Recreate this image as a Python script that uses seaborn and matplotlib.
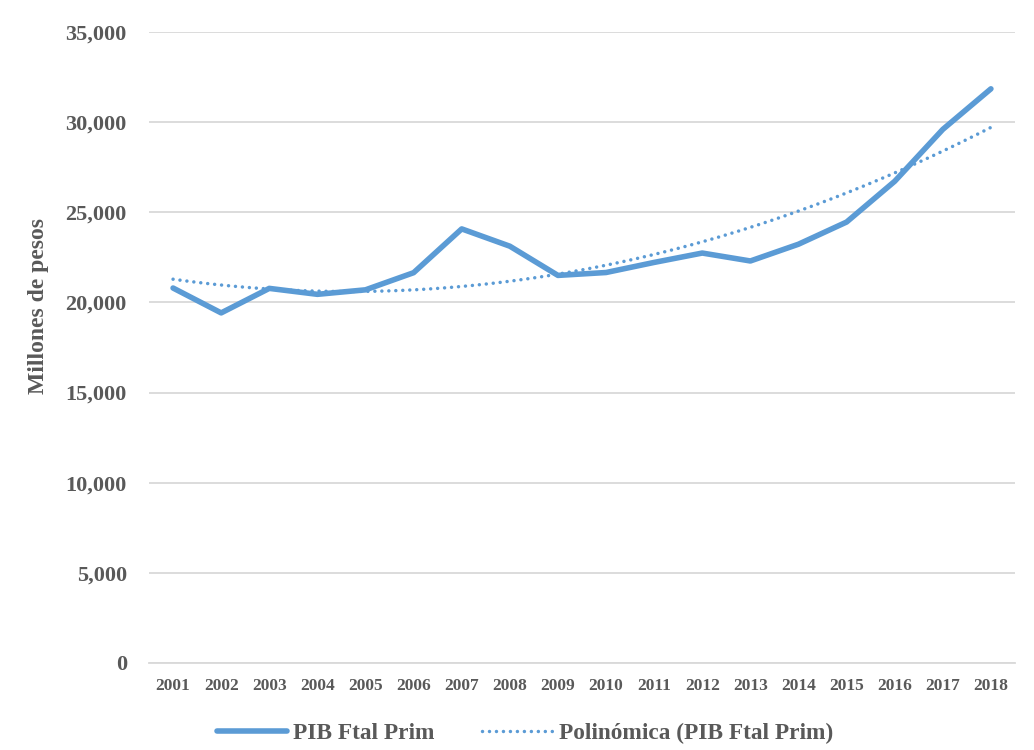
import pandas as pd
import matplotlib.pyplot as plt
import seaborn as sns

# PIB forestal primario, millones de pesos
years = list(range(2001, 2019))
pib = [20800, 19420, 20780, 20450, 20700, 21650, 24080, 23120, 21500,
       21660, 22220, 22740, 22300, 23230, 24460, 26720, 29600, 31850]

serie_label = 'PIB Ftal Prim'
trend_label = 'Polinómica (PIB Ftal Prim)'
y_label = 'Millones de pesos'

blue = '#5B9BD5'
text_color = '#595959'

df = pd.DataFrame({'year': years, 'pib': pib})

sns.set_theme(style='white')
plt.rcParams['font.family'] = ['Liberation Serif', 'DejaVu Serif']
plt.rcParams['font.weight'] = 'bold'

fig = plt.figure(figsize=(10.34, 7.5), dpi=100)
ax = fig.add_axes([0.1441, 0.116, 0.8375, 0.8413])

sns.lineplot(data=df, x='year', y='pib', ax=ax, color=blue, lw=4,
             label=serie_label, solid_capstyle='round', solid_joinstyle='round')
# Excel style 2nd order polynomial trendline
sns.regplot(data=df, x='year', y='pib', ax=ax, order=2, ci=None, scatter=False,
            label=trend_label,
            line_kws=dict(color=blue, lw=2.5, ls=(0, (0.01, 2)),
                          dash_capstyle='round'))

ax.set_xlim(2000.5, 2018.5)
ax.set_ylim(0, 35000)
ax.set_xticks(years)
ax.set_xticklabels([str(y) for y in years])
ax.set_yticks(range(0, 35001, 5000))
ax.yaxis.set_major_formatter(plt.FuncFormatter(lambda v, p: f'{v:,.0f}'))

ax.grid(axis='y', color='#D9D9D9', lw=1.3)
ax.set_axisbelow(True)
for s in ['top', 'right', 'left']:
    ax.spines[s].set_visible(False)
ax.spines['bottom'].set_color('#D9D9D9')
ax.spines['bottom'].set_linewidth(1.3)

ax.tick_params(axis='y', length=0, pad=16, labelsize=16, labelcolor=text_color)
ax.tick_params(axis='x', length=0, pad=11, labelsize=12.5, labelcolor=text_color)
for t in ax.get_xticklabels() + ax.get_yticklabels():
    t.set_fontweight('bold')

ax.set_xlabel('')
ax.set_ylabel(y_label, fontsize=17, fontweight='bold', color=text_color)
ax.yaxis.set_label_coords(-0.115, 0.566)

# legend sits centred on the figure, not on the plot area
leg = ax.legend(loc='center', bbox_to_anchor=(0.434, -0.111), ncol=2, frameon=False,
                prop=dict(size=16.8, weight='bold'), handlelength=3.0,
                columnspacing=2.05, handletextpad=0.28)
for t in leg.get_texts():
    t.set_color(text_color)

fig.savefig('out.png', dpi=100)
